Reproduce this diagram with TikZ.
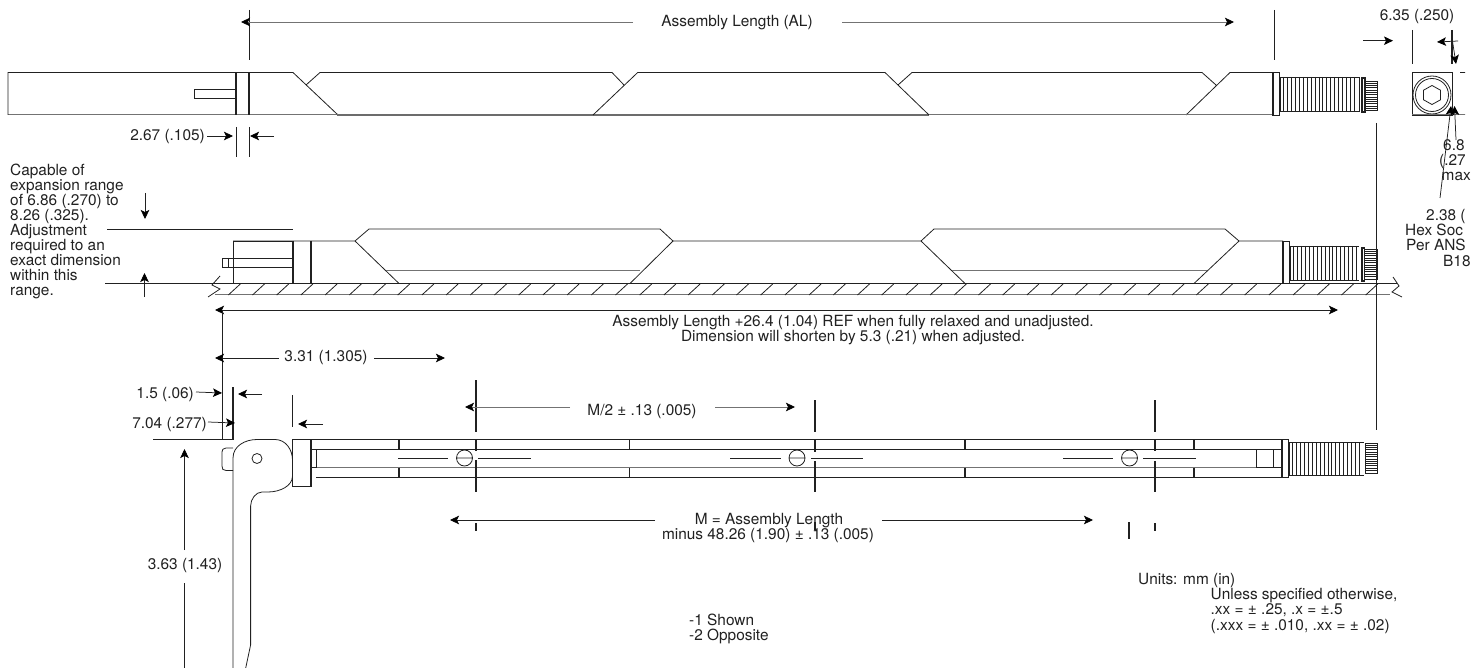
\documentclass[tikz,border=0pt]{standalone}
\usepackage{fontspec}
\setmainfont{TeX Gyre Heros}
\usetikzlibrary{arrows.meta}
\definecolor{ink}{gray}{0.13}
\definecolor{soft}{gray}{0.45}
\tikzset{
  part/.style={draw=ink,line width=0.8pt},
  heavy/.style={draw=ink,line width=1.15pt},
  pale/.style={draw=soft,line width=1pt},
  dimline/.style={draw=ink,line width=0.75pt},
  dimarrow/.style={draw=ink,line width=0.75pt,-{Stealth[length=9pt,width=8.5pt,inset=2pt,color=black]}},
  lab/.style={font=\fontsize{15.4}{15}\selectfont,text=ink,inner sep=0pt},
  labl/.style={lab,anchor=base west,align=left}
}
\begin{document}
\begin{tikzpicture}[x=1pt,y=-1pt]
\useasboundingbox (0,0) rectangle (1477,668);
% TOP ASSEMBLY
\draw[pale] (8,115) -- (337,115);
\draw[part] (8,115) -- (8,72.5) -- (293,72.5) -- (338,115) (320,72.5) -- (306,85);
\draw[pale,draw=gray!85!black,line width=1.3pt] (337,115) -- (929,115);
\draw[part] (320,72.5) -- (612,72.5) -- (624,85) (593,115) -- (637.7,72.5) -- (885,72.5) -- (929,115) (912,72.5) -- (898,85) (912,72.5) -- (1202,72.5) -- (1216,85) (1186,115) -- (1230,72.5) -- (1273,72.5);
\draw[pale] (929,115) -- (1186,115) (1186,115) -- (1273,115);
\draw[heavy] (236,72.5) -- (236,115) (249,72.5) -- (249,115);
\draw[part] (236,89) -- (194,89) -- (194,98.5) -- (236,98.5);
% TOP THREAD
\begin{scope}[shift={(1273,0)}]
\draw[part] (-1,72) rectangle (6,115);
\draw[heavy] (0,72) -- (0,115);
\foreach \x in {7,10.9,...,84} \draw[draw=ink,line width=0.85pt] (\x,77) -- (\x,111.5);
\draw[part] (6,77) -- (86,77) -- (86,111.5) -- (6,111.5);
\draw[heavy] (89,78) rectangle (92,112);
\foreach \y in {83,85.3,...,109} \draw[draw=ink,line width=0.5pt] (92,\y) -- (104,\y);
\draw[part] (92,81) -- (104,81) -- (104,110) -- (92,110);
\end{scope}
% SECOND ASSEMBLY
\draw[part] (233,241) rectangle (293,283.5);
\draw[part] (233,241) -- (355,241) -- (399,283.5) (355,241) -- (369,229) -- (660,229) -- (673,241) -- (630,283.5);
\draw[part] (673,241) -- (921,241) -- (965,283.5) (921,241) -- (934,229) -- (1225,229) -- (1239,241) -- (1194,283.5) (1239,241) -- (1283,241);
\draw[pale] (386,271) -- (640,271) (952,271) -- (1207,271);
\draw[heavy] (293,241) -- (293,283.5) (311,241) -- (311,283.5);
\draw[part] (233,258) -- (222,258) -- (222,267) -- (233,267) (228,258) -- (228,267) (233,258) -- (293,258) (233,267) -- (293,267);
\draw[part] (105,283.5) -- (1397,283.5);
\draw[pale] (215,294) -- (1390,294);
\draw[part] (107,229) -- (293,229);
\foreach \x in {228.3,252.5,...,1376} \draw[part] (\x,295) -- (\x+12,284);
\draw[part] (220,276) -- (212,285) -- (220,289) -- (208,297);
\draw[part] (1393,277) -- (1399,286) -- (1392,292) -- (1402,297);
\begin{scope}[shift={(1283,169)}]
\draw[part] (0,72) rectangle (6,114.5);
\draw[heavy] (0,72) -- (0,114.5);
\foreach \x in {7,10.9,...,74} \draw[draw=ink,line width=0.85pt] (\x,77) -- (\x,111);
\draw[part] (6,77) -- (76,77) (6,111) -- (76,111);
\draw[heavy] (79,79) rectangle (81.5,112);
\foreach \y in {82,84.3,...,109} \draw[draw=ink,line width=0.5pt] (81.5,\y) -- (94,\y);
\draw[part] (81.5,80) -- (94,80) -- (94,110) -- (81.5,110);
\end{scope}
% THIRD ASSEMBLY
\draw[part] (311,439.5) -- (1283,439.5) (311,449) -- (1256,449) (399,477) -- (1283,477);
\draw[pale] (316,467.5) -- (1256,467.5);
\draw[part] (316,477) -- (399,477);
\draw[part] (292.5,439.5) rectangle (311,486.5);
\draw[heavy] (311,439.5) -- (311,486.5);
\draw[part] (311,449) -- (316,449) -- (316,467.5) -- (311,467.5);
\foreach \x in {399,629.5,965,1194} \draw[heavy] (\x,439.5) -- (\x,449) (\x,467.5) -- (\x,477);
\foreach \c/\la/\lb/\ra/\rb in {464.5/398/448/478/531,797/730/781/811/863,1129.5/1063/1113/1143/1196}{
  \draw[part] (\c,458) circle (8) (\c-8,458) -- (\c+8,458);
  \draw[part] (\la,458) -- (\lb,458) (\ra,458) -- (\rb,458);
}
\draw[heavy] (476,380) -- (476,432) (476,439.5) -- (476,451) (476,460) -- (476,491.5) (476,523) -- (476,531);
\draw[heavy] (815,400) -- (815,432) (815,439.5) -- (815,452) (815,461) -- (815,491.5) (815,522) -- (815,530);
\draw[heavy] (1155,400) -- (1155,432) (1155,439.5) -- (1155,451) (1155,461) -- (1155,491.5) (1155,523) -- (1155,531);
\draw[heavy] (1129,522) -- (1129,539);
\draw[part] (1256,449) rectangle (1282,467.5) (1273,449) -- (1273,467.5);
\begin{scope}[shift={(1282,369)}]
\draw[part] (0,70) rectangle (6,108);
\draw[heavy] (0,70) -- (0,108);
\foreach \x in {7,10.9,...,80} \draw[draw=ink,line width=0.85pt] (\x,73) -- (\x,106.5);
\draw[part] (6,73) -- (82,73) (6,106.5) -- (82,106.5);
\foreach \y in {76,78.3,...,103} \draw[draw=ink,line width=0.5pt] (83,\y) -- (95,\y);
\draw[part] (83,74) -- (95,74) -- (95,104) -- (83,104) -- cycle;
\end{scope}
% LEVER
\draw[part] (233,668) -- (233,458) .. controls (233,446) and (245,439.5) .. (257,439.5) -- (275,439.5)
  .. controls (286,439.5) and (292.5,450) .. (292.5,460) -- (292.5,476)
  .. controls (292.5,486) and (280,492) .. (268,492) -- (262,492)
  .. controls (256,492) and (250.6,499) .. (250.6,506) -- (250.6,645) -- (245.7,668);
\draw[part] (233,448) -- (226,448) .. controls (223,448) and (222,450) .. (222,452) -- (222,466) .. controls (222,469) and (223,470.5) .. (226,470.5) -- (233,470.5);
\draw[part] (257,458.5) circle (5);
% END VIEW
\draw[part] (1412,72.5) rectangle (1452,115);
\draw[part] (1432,95) circle (19) (1432,95) circle (16.5);
\draw[part] (1432,85.5) -- (1440.5,90.2) -- (1440.5,99.8) -- (1432,104.5) -- (1423.5,99.8) -- (1423.5,90.2) -- cycle;
% DIMENSIONS
\draw[heavy,line width=0.9pt] (249,10) -- (249,60) (1274,10) -- (1274,60);
\node[lab] (al) at (737,23) {Assembly Length (AL)};
\draw[dimarrow,draw=soft] (633,22) -- (241,22);
\draw[dimarrow,draw=soft] (842,22) -- (1234,22);
\draw[dimline] (236,127) -- (236,157) (249,127) -- (249,157);
\node[lab,anchor=east] (a) at (205,137) {2.67 (.105)};
\draw[dimarrow] (207,136) -- (233,136);
\draw[dimarrow] (274,136) -- (250,136);
\node[labl,anchor=north west] (cap) at (10,163.5) {Capable of\\expansion range\\of 6.86 (.270) to\\8.26 (.325).\\Adjustment\\required to an\\exact dimension\\within this\\range.};
\draw[dimarrow] (145,193) -- (145,219);
\draw[dimarrow] (144.5,297) -- (144.5,273);
\draw[heavy] (1376.5,123) -- (1376.5,430);
\draw[dimline] (222.7,310) -- (1300,310);
\draw[dimarrow] (1300,310) -- (1338,310);
\draw[dimarrow] (240,310) -- (215,310);
\draw[heavy] (222.7,310) -- (222.7,440);
\node[lab] (r1) at (853,323) {Assembly Length +26.4 (1.04) REF when fully relaxed and unadjusted.};
\node[lab] (r2) at (853,337.5) {Dimension will shorten by 5.3 (.21) when adjusted.};
\node[lab] (d1) at (326,358) {3.31 (1.305)};
\draw[dimarrow] (279,358) -- (215,358);
\draw[dimarrow] (374,358) -- (445,358);
\node[lab,anchor=east] (d2) at (194,395) {1.5 (.06)};
\draw[dimarrow] (196,392) -- (222,393);
\draw[heavy] (233,387) -- (233,440);
\draw[dimarrow] (262,394) -- (238,394);
\node[lab,anchor=east] (d3) at (207,425) {7.04 (.277)};
\draw[dimarrow] (208,422) -- (235,423);
\draw[dimline] (292.7,395) -- (292.7,427);
\draw[dimarrow] (323,424) -- (298,424);
\draw[part] (153,439.5) -- (233,439.5);
\draw[dimarrow] (184.5,550) -- (184.5,449);
\node[lab] (d4) at (185,565.5) {3.63 (1.43)};
\draw[dimline] (184.5,583) -- (184.5,668);
\node[lab] (m2) at (642,412) {M/2 ± .13 (.005)};
\draw[dimarrow,draw=soft] (570,407) -- (465,407);
\draw[dimarrow,draw=soft] (715,407) -- (795,407);
\node[lab] (m1) at (769,521) {M = Assembly Length};
\node[lab] (m3) at (768,536) {minus 48.26 (1.90) ± .13 (.005)};
\draw[dimarrow] (655,520) -- (450,520);
\draw[dimarrow] (882,520) -- (1093,520);
\node[labl] (u1) at (1138,584) {Units: mm (in)};
\node[labl] (u2) at (1210.5,599) {Unless specified otherwise,};
\node[labl] (u3) at (1210.5,614.5) {.xx = ± .25, .x = ±.5};
\node[labl] (u4) at (1210.5,630) {(.xxx = ± .010, .xx = ± .02)};
\node[labl] (s1) at (689,625) {-1 Shown};
\node[labl] (s2) at (689,640) {-2 Opposite};
% END VIEW DIMS, CUT AT THE RIGHT
\begin{scope}
\clip (1340,0) rectangle (1465,300);
\draw[dimline] (1412,30) -- (1412,64);
\draw[heavy] (1452,30) -- (1452,64);
\draw[dimarrow] (1363,40.7) -- (1393,40.7);
\draw[dimarrow] (1458,41) -- (1437,42);
\draw[dimarrow] (1452,38) -- (1456,64);
\draw[dimline] (1460,72.5) -- (1466,72.5);
\draw[pale] (1412,115) -- (1466,115);
\draw[dimarrow] (1440,198) -- (1451,106);
\draw[dimarrow] (1456,140) -- (1454.5,106);
\end{scope}
\node[lab] (e1) at (1417,17) {6.35 (.250)};
\node[labl] (e2) at (1443,151) {6.8};
\node[labl] (e3) at (1439,166) {(.27};
\node[labl] (e4) at (1441.5,181) {max};
\node[labl] (e5) at (1426,221) {2.38 (};
\node[labl] (e6) at (1405,236) {Hex Soc};
\node[labl] (e7) at (1406,251) {Per ANS};
\node[labl] (e8) at (1443,266) {B18};
\end{tikzpicture}
\end{document}
